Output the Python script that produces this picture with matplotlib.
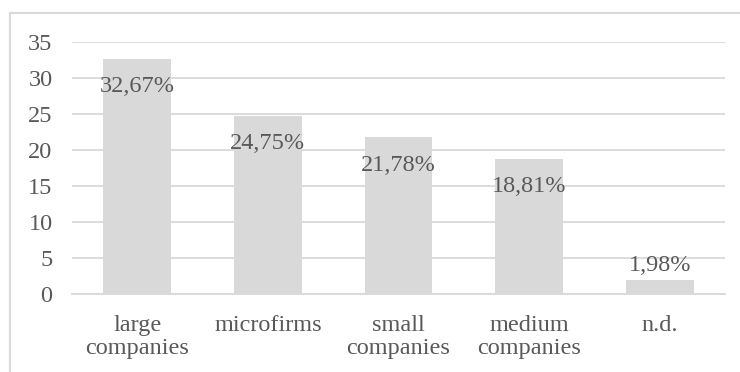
import matplotlib
matplotlib.use("Agg")
import matplotlib.pyplot as plt
from matplotlib.patches import Rectangle

categories = ["large\ncompanies", "microfirms", "small\ncompanies", "medium\ncompanies", "n.d."]
values = [32.67, 24.75, 21.78, 18.81, 1.98]
labels = ["32,67%", "24,75%", "21,78%", "18,81%", "1,98%"]
yticks = [0, 5, 10, 15, 20, 25, 30, 35]

plt.rcParams['font.family'] = ['Liberation Serif', 'DejaVu Serif']
txt = '#595959'
gray = '#d9d9d9'
fs = 17.5

fig = plt.figure(figsize=(7.4, 3.72), dpi=100)
fig.patches.append(Rectangle((10/740, -0.1), 1.2, (1 - 13/372) + 0.1,
                             transform=fig.transFigure, fill=False,
                             edgecolor=gray, linewidth=1.5, zorder=0))
ax = fig.add_axes([72/740, 78/372, (725-72)/740, (294-42)/372])
x = list(range(len(values)))
ax.bar(x, values, width=0.52, color=gray, zorder=2)
ax.set_xlim(-0.5, len(values) - 0.5)
ax.set_ylim(0, 35)
ax.set_yticks(yticks)
ax.set_yticklabels([str(t) for t in yticks])
ax.set_xticks(x)
ax.set_xticklabels(categories, linespacing=1.15)
ax.grid(axis='y', color=gray, linewidth=1.3, zorder=0)
for s in ['top', 'right', 'left']:
    ax.spines[s].set_visible(False)
ax.spines['bottom'].set_color(gray)
ax.spines['bottom'].set_linewidth(1.3)
ax.tick_params(axis='both', length=0, labelsize=fs, colors=txt)
ax.tick_params(axis='y', pad=14)
ax.tick_params(axis='x', pad=15)
for xi, v, lab in zip(x, values, labels):
    yc = max(v - 3.9, 3.9)
    ax.text(xi, yc, lab, ha='center', va='center', fontsize=fs, color=txt, zorder=3)
fig.savefig("out.png", dpi=100)
